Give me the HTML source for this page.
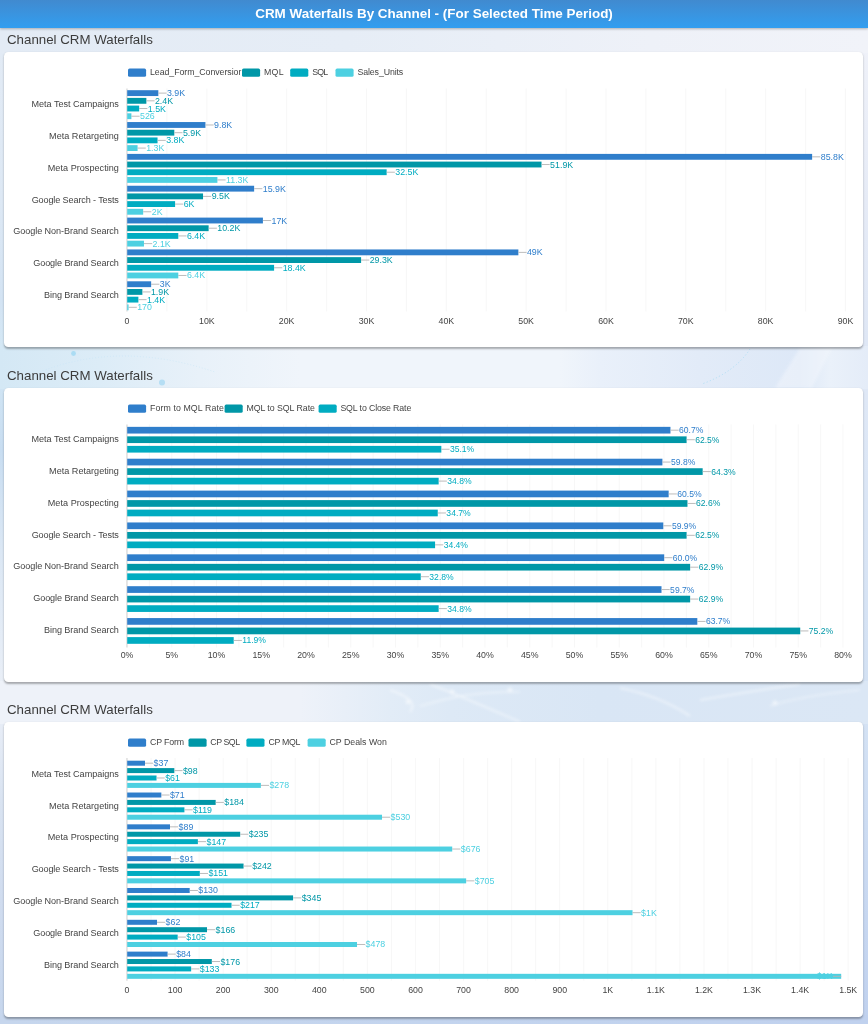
<!DOCTYPE html>
<html lang="en"><head><meta charset="utf-8"><title>CRM Waterfalls By Channel</title>
<style>
html,body{margin:0;padding:0}
body{width:868px;height:1024px;overflow:hidden;position:relative;font-family:"Liberation Sans",sans-serif;background:#e3ebf5}
.bg{position:absolute;left:0;width:868px}
.bgl{left:0;top:27px;width:434px;height:997px;background:linear-gradient(180deg,#e3ebf5 0,#dde8f4 173px,#d3e3f3 273px,#d4e8f5 323px,#c8ddf1 423px,#dbe7f4 523px,#eaeff7 663px,#e6ecf6 703px,#d9e3f1 773px,#d0dcef 873px,#c6d6ed 997px)}
.bgr{left:434px;top:27px;width:434px;height:997px;background:linear-gradient(180deg,#f0f2f9 0,#e6ebf6 173px,#dfe7f5 313px,#dfe8f6 373px,#d3e1f3 663px,#d4e2f4 693px,#c0d1ee 997px)}
.bg0{top:27px;height:26px;background:linear-gradient(90deg,#e3ebf5 0,#e6edf6 40%,#eef1f8 75%,#f1f3f9 100%)}
.bg1{top:346px;height:43px;background:linear-gradient(90deg,#d4e8f5 0,#dcecf7 100px,#e8f1f9 200px,#f0f5fb 300px,#f0f5fb 560px,#e9f0fa 600px,#e2ebf8 700px,#dde8f7 800px,#eaf1fa 830px,#e4ecf8 868px)}
.bg2{top:681px;height:43px;background:linear-gradient(90deg,#eef2f9 0,#eef2f9 300px,#e2ecf7 390px,#dde9f6 450px,#d9e6f5 600px,#dbe7f5 868px)}
.bg3{top:1015px;height:9px;background:linear-gradient(90deg,#c6d6ed 0,#c3d4ee 50%,#c0d1ee 100%)}
.hdr{position:absolute;left:0;top:0;width:868px;height:27.6px;background:linear-gradient(#418acf,#329ef0);color:#fff;font-weight:bold;font-size:13.44px;line-height:28.3px;text-align:center;box-shadow:0 1px 2.5px rgba(0,0,0,.28);z-index:2}
.ttl{position:absolute;left:7px;font-size:13.3px;color:#3c3c3c;line-height:16px;white-space:nowrap}
.card{position:absolute;left:4.2px;width:859.2px;height:295.2px;background:#fff;border-radius:4.3px;box-shadow:0 1.4px 2px rgba(0,0,0,.3)}
svg.ch{position:absolute;overflow:visible}
.g{stroke:#f6f6f6;stroke-width:.87}
.ax{stroke:#dedede;stroke-width:1.5}
.ll{stroke:#b4b4b4;stroke-width:.9}
.v{font-size:8.85px}
.c{font-size:9.1px;fill:#444}
.t{font-size:8.8px;fill:#444}
.l{font-size:8.8px;fill:#444}
</style></head><body>
<div class="bg bgl"></div><div class="bg bgr"></div><div class="bg bg0"></div><div class="bg bg1"></div><div class="bg bg2"></div><div class="bg bg3"></div>
<svg class="deco" width="868" height="1024" viewBox="0 0 868 1024" style="position:absolute;left:0;top:0">
<defs><filter id="bl" x="-20%" y="-20%" width="140%" height="140%"><feGaussianBlur stdDeviation="1.5"/></filter></defs>
<circle cx="73.5" cy="353.5" r="2.4" fill="#9fd8f2" opacity=".8"/>
<circle cx="162" cy="382.5" r="3" fill="#a9daf3" opacity=".8"/>
<path d="M40 372 Q120 340 215 372" fill="none" stroke="#c4e4f6" stroke-width=".8" stroke-dasharray="1 2" opacity=".7"/>
<path d="M750 349 Q735 372 702 384" fill="none" stroke="#a9dcf4" stroke-width="1" stroke-dasharray="1.2 2.2" opacity=".8"/>
<path d="M800 348 L775 388 L812 388 L832 348 Z" fill="#f2f6fc" opacity=".55" filter="url(#bl)"/>
<g stroke="#fff" fill="none" filter="url(#bl)" opacity=".6">
<path d="M390 690 Q420 700 410 712" stroke-width="1.6"/>
<path d="M430 684 Q470 700 520 722" stroke-width="1.4"/>
<path d="M420 706 Q470 690 520 692" stroke-width="1.2"/>
<path d="M620 688 Q660 696 690 716" stroke-width="1.6"/>
<path d="M700 700 Q760 690 800 684" stroke-width="1.4"/>
<path d="M770 706 Q800 696 860 690" stroke-width="1.2"/>
<circle cx="452" cy="692" r="2" fill="#fff"/><circle cx="510" cy="690" r="2" fill="#fff"/><circle cx="408" cy="702" r="1.8" fill="#fff"/><circle cx="775" cy="703" r="2" fill="#fff"/>
</g>
</svg>
<div class="hdr">CRM Waterfalls By Channel - (For Selected Time Period)</div>

<div class="ttl" style="top:32.40px">Channel CRM Waterfalls</div>
<div class="card" style="top:52.1px;height:295.3px"></div>
<svg class="ch" style="left:0;top:52.1px" width="868" height="295.3" viewBox="0 52.1 868 295.3">
<line x1="166.91" y1="88.60" x2="166.91" y2="311.55" class="g"/>
<line x1="206.83" y1="88.60" x2="206.83" y2="311.55" class="g"/>
<line x1="246.75" y1="88.60" x2="246.75" y2="311.55" class="g"/>
<line x1="286.66" y1="88.60" x2="286.66" y2="311.55" class="g"/>
<line x1="326.58" y1="88.60" x2="326.58" y2="311.55" class="g"/>
<line x1="366.49" y1="88.60" x2="366.49" y2="311.55" class="g"/>
<line x1="406.41" y1="88.60" x2="406.41" y2="311.55" class="g"/>
<line x1="446.32" y1="88.60" x2="446.32" y2="311.55" class="g"/>
<line x1="486.24" y1="88.60" x2="486.24" y2="311.55" class="g"/>
<line x1="526.15" y1="88.60" x2="526.15" y2="311.55" class="g"/>
<line x1="566.07" y1="88.60" x2="566.07" y2="311.55" class="g"/>
<line x1="605.98" y1="88.60" x2="605.98" y2="311.55" class="g"/>
<line x1="645.89" y1="88.60" x2="645.89" y2="311.55" class="g"/>
<line x1="685.81" y1="88.60" x2="685.81" y2="311.55" class="g"/>
<line x1="725.73" y1="88.60" x2="725.73" y2="311.55" class="g"/>
<line x1="765.64" y1="88.60" x2="765.64" y2="311.55" class="g"/>
<line x1="805.56" y1="88.60" x2="805.56" y2="311.55" class="g"/>
<line x1="845.47" y1="88.60" x2="845.47" y2="311.55" class="g"/>
<line x1="126.95" y1="88.60" x2="126.95" y2="311.55" class="ax"/>
<rect x="127.20" y="90.30" width="31.13" height="5.85" fill="#2f7ecb"/>
<line x1="158.33" y1="93.22" x2="166.53" y2="93.22" class="ll"/>
<text x="166.93" y="96.22" class="v" fill="#2f7ecb">3.9K</text>
<rect x="127.20" y="98.00" width="19.16" height="5.85" fill="#0097a7"/>
<line x1="146.36" y1="100.92" x2="154.56" y2="100.92" class="ll"/>
<text x="154.96" y="103.92" class="v" fill="#0097a7">2.4K</text>
<rect x="127.20" y="105.70" width="11.97" height="5.85" fill="#00acc1"/>
<line x1="139.17" y1="108.62" x2="147.37" y2="108.62" class="ll"/>
<text x="147.77" y="111.62" class="v" fill="#00acc1">1.5K</text>
<rect x="127.20" y="113.40" width="4.20" height="5.85" fill="#4dd0e1"/>
<line x1="131.40" y1="116.33" x2="139.60" y2="116.33" class="ll"/>
<text x="140.00" y="119.33" class="v" fill="#4dd0e1">526</text>
<rect x="127.20" y="122.15" width="78.23" height="5.85" fill="#2f7ecb"/>
<line x1="205.43" y1="125.08" x2="213.63" y2="125.08" class="ll"/>
<text x="214.03" y="128.07" class="v" fill="#2f7ecb">9.8K</text>
<rect x="127.20" y="129.85" width="47.10" height="5.85" fill="#0097a7"/>
<line x1="174.30" y1="132.78" x2="182.50" y2="132.78" class="ll"/>
<text x="182.90" y="135.78" class="v" fill="#0097a7">5.9K</text>
<rect x="127.20" y="137.55" width="30.34" height="5.85" fill="#00acc1"/>
<line x1="157.54" y1="140.48" x2="165.74" y2="140.48" class="ll"/>
<text x="166.14" y="143.48" class="v" fill="#00acc1">3.8K</text>
<rect x="127.20" y="145.25" width="10.38" height="5.85" fill="#4dd0e1"/>
<line x1="137.58" y1="148.18" x2="145.78" y2="148.18" class="ll"/>
<text x="146.18" y="151.18" class="v" fill="#4dd0e1">1.3K</text>
<rect x="127.20" y="154.00" width="684.94" height="5.85" fill="#2f7ecb"/>
<line x1="812.14" y1="156.93" x2="820.34" y2="156.93" class="ll"/>
<text x="820.74" y="159.93" class="v" fill="#2f7ecb">85.8K</text>
<rect x="127.20" y="161.70" width="414.32" height="5.85" fill="#0097a7"/>
<line x1="541.52" y1="164.62" x2="549.72" y2="164.62" class="ll"/>
<text x="550.12" y="167.62" class="v" fill="#0097a7">51.9K</text>
<rect x="127.20" y="169.40" width="259.45" height="5.85" fill="#00acc1"/>
<line x1="386.65" y1="172.33" x2="394.85" y2="172.33" class="ll"/>
<text x="395.25" y="175.33" class="v" fill="#00acc1">32.5K</text>
<rect x="127.20" y="177.10" width="90.21" height="5.85" fill="#4dd0e1"/>
<line x1="217.41" y1="180.03" x2="225.61" y2="180.03" class="ll"/>
<text x="226.01" y="183.03" class="v" fill="#4dd0e1">11.3K</text>
<rect x="127.20" y="185.85" width="126.93" height="5.85" fill="#2f7ecb"/>
<line x1="254.13" y1="188.78" x2="262.33" y2="188.78" class="ll"/>
<text x="262.73" y="191.78" class="v" fill="#2f7ecb">15.9K</text>
<rect x="127.20" y="193.55" width="75.84" height="5.85" fill="#0097a7"/>
<line x1="203.04" y1="196.48" x2="211.24" y2="196.48" class="ll"/>
<text x="211.64" y="199.48" class="v" fill="#0097a7">9.5K</text>
<rect x="127.20" y="201.25" width="47.90" height="5.85" fill="#00acc1"/>
<line x1="175.10" y1="204.18" x2="183.30" y2="204.18" class="ll"/>
<text x="183.70" y="207.18" class="v" fill="#00acc1">6K</text>
<rect x="127.20" y="208.95" width="15.97" height="5.85" fill="#4dd0e1"/>
<line x1="143.17" y1="211.88" x2="151.37" y2="211.88" class="ll"/>
<text x="151.77" y="214.88" class="v" fill="#4dd0e1">2K</text>
<rect x="127.20" y="217.70" width="135.71" height="5.85" fill="#2f7ecb"/>
<line x1="262.91" y1="220.62" x2="271.11" y2="220.62" class="ll"/>
<text x="271.51" y="223.62" class="v" fill="#2f7ecb">17K</text>
<rect x="127.20" y="225.40" width="81.43" height="5.85" fill="#0097a7"/>
<line x1="208.63" y1="228.32" x2="216.83" y2="228.32" class="ll"/>
<text x="217.23" y="231.32" class="v" fill="#0097a7">10.2K</text>
<rect x="127.20" y="233.10" width="51.09" height="5.85" fill="#00acc1"/>
<line x1="178.29" y1="236.03" x2="186.49" y2="236.03" class="ll"/>
<text x="186.89" y="239.03" class="v" fill="#00acc1">6.4K</text>
<rect x="127.20" y="240.80" width="16.76" height="5.85" fill="#4dd0e1"/>
<line x1="143.96" y1="243.72" x2="152.16" y2="243.72" class="ll"/>
<text x="152.56" y="246.72" class="v" fill="#4dd0e1">2.1K</text>
<rect x="127.20" y="249.55" width="391.17" height="5.85" fill="#2f7ecb"/>
<line x1="518.37" y1="252.48" x2="526.57" y2="252.48" class="ll"/>
<text x="526.97" y="255.48" class="v" fill="#2f7ecb">49K</text>
<rect x="127.20" y="257.25" width="233.90" height="5.85" fill="#0097a7"/>
<line x1="361.10" y1="260.18" x2="369.30" y2="260.18" class="ll"/>
<text x="369.70" y="263.18" class="v" fill="#0097a7">29.3K</text>
<rect x="127.20" y="264.95" width="146.89" height="5.85" fill="#00acc1"/>
<line x1="274.09" y1="267.88" x2="282.29" y2="267.88" class="ll"/>
<text x="282.69" y="270.88" class="v" fill="#00acc1">18.4K</text>
<rect x="127.20" y="272.65" width="51.09" height="5.85" fill="#4dd0e1"/>
<line x1="178.29" y1="275.58" x2="186.49" y2="275.58" class="ll"/>
<text x="186.89" y="278.58" class="v" fill="#4dd0e1">6.4K</text>
<rect x="127.20" y="281.40" width="23.95" height="5.85" fill="#2f7ecb"/>
<line x1="151.15" y1="284.33" x2="159.35" y2="284.33" class="ll"/>
<text x="159.75" y="287.33" class="v" fill="#2f7ecb">3K</text>
<rect x="127.20" y="289.10" width="15.17" height="5.85" fill="#0097a7"/>
<line x1="142.37" y1="292.03" x2="150.57" y2="292.03" class="ll"/>
<text x="150.97" y="295.03" class="v" fill="#0097a7">1.9K</text>
<rect x="127.20" y="296.80" width="11.18" height="5.85" fill="#00acc1"/>
<line x1="138.38" y1="299.73" x2="146.58" y2="299.73" class="ll"/>
<text x="146.98" y="302.73" class="v" fill="#00acc1">1.4K</text>
<rect x="127.20" y="304.50" width="1.36" height="5.85" fill="#4dd0e1"/>
<line x1="128.56" y1="307.43" x2="136.76" y2="307.43" class="ll"/>
<text x="137.16" y="310.43" class="v" fill="#4dd0e1">170</text>
<text x="118.9" y="107.12" class="c" text-anchor="end" textLength="87.36" lengthAdjust="spacing">Meta Test Campaigns</text>
<text x="118.9" y="138.98" class="c" text-anchor="end" textLength="69.80" lengthAdjust="spacing">Meta Retargeting</text>
<text x="118.9" y="170.83" class="c" text-anchor="end" textLength="71.13" lengthAdjust="spacing">Meta Prospecting</text>
<text x="118.9" y="202.68" class="c" text-anchor="end" textLength="87.27" lengthAdjust="spacing">Google Search - Tests</text>
<text x="118.9" y="234.53" class="c" text-anchor="end" textLength="105.67" lengthAdjust="spacing">Google Non-Brand Search</text>
<text x="118.9" y="266.38" class="c" text-anchor="end" textLength="85.67" lengthAdjust="spacing">Google Brand Search</text>
<text x="118.9" y="298.23" class="c" text-anchor="end" textLength="74.86" lengthAdjust="spacing">Bing Brand Search</text>
<text x="127.00" y="324.15" class="t" text-anchor="middle">0</text>
<text x="206.83" y="324.15" class="t" text-anchor="middle">10K</text>
<text x="286.66" y="324.15" class="t" text-anchor="middle">20K</text>
<text x="366.49" y="324.15" class="t" text-anchor="middle">30K</text>
<text x="446.32" y="324.15" class="t" text-anchor="middle">40K</text>
<text x="526.15" y="324.15" class="t" text-anchor="middle">50K</text>
<text x="605.98" y="324.15" class="t" text-anchor="middle">60K</text>
<text x="685.81" y="324.15" class="t" text-anchor="middle">70K</text>
<text x="765.64" y="324.15" class="t" text-anchor="middle">80K</text>
<text x="845.47" y="324.15" class="t" text-anchor="middle">90K</text>
<rect x="128" y="68.70" width="18.1" height="8.2" rx="1.6" fill="#2f7ecb"/>
<clipPath id="cl0"><rect x="149" y="64.8" width="92.19999999999999" height="16"/></clipPath>
<text x="150" y="75.40" class="l" clip-path="url(#cl0)" textLength="93.30" lengthAdjust="spacing">Lead_Form_Conversion</text>
<rect x="242" y="68.70" width="18.1" height="8.2" rx="1.6" fill="#0097a7"/>
<text x="264" y="75.40" class="l" textLength="19.53" lengthAdjust="spacing">MQL</text>
<rect x="290.2" y="68.70" width="18.1" height="8.2" rx="1.6" fill="#00acc1"/>
<text x="312.2" y="75.40" class="l" textLength="15.88" lengthAdjust="spacing">SQL</text>
<rect x="335.5" y="68.70" width="18.1" height="8.2" rx="1.6" fill="#4dd0e1"/>
<text x="357.5" y="75.40" class="l" textLength="45.72" lengthAdjust="spacing">Sales_Units</text>
</svg>
<div class="ttl" style="top:367.90px">Channel CRM Waterfalls</div>
<div class="card" style="top:387.6px;height:294.8px"></div>
<svg class="ch" style="left:0;top:387.6px" width="868" height="294.8" viewBox="0 387.6 868 294.8">
<line x1="149.38" y1="424.00" x2="149.38" y2="647.09" class="g"/>
<line x1="171.75" y1="424.00" x2="171.75" y2="647.09" class="g"/>
<line x1="194.12" y1="424.00" x2="194.12" y2="647.09" class="g"/>
<line x1="216.50" y1="424.00" x2="216.50" y2="647.09" class="g"/>
<line x1="238.88" y1="424.00" x2="238.88" y2="647.09" class="g"/>
<line x1="261.25" y1="424.00" x2="261.25" y2="647.09" class="g"/>
<line x1="283.62" y1="424.00" x2="283.62" y2="647.09" class="g"/>
<line x1="306.00" y1="424.00" x2="306.00" y2="647.09" class="g"/>
<line x1="328.38" y1="424.00" x2="328.38" y2="647.09" class="g"/>
<line x1="350.75" y1="424.00" x2="350.75" y2="647.09" class="g"/>
<line x1="373.12" y1="424.00" x2="373.12" y2="647.09" class="g"/>
<line x1="395.50" y1="424.00" x2="395.50" y2="647.09" class="g"/>
<line x1="417.88" y1="424.00" x2="417.88" y2="647.09" class="g"/>
<line x1="440.25" y1="424.00" x2="440.25" y2="647.09" class="g"/>
<line x1="462.62" y1="424.00" x2="462.62" y2="647.09" class="g"/>
<line x1="485.00" y1="424.00" x2="485.00" y2="647.09" class="g"/>
<line x1="507.37" y1="424.00" x2="507.37" y2="647.09" class="g"/>
<line x1="529.75" y1="424.00" x2="529.75" y2="647.09" class="g"/>
<line x1="552.12" y1="424.00" x2="552.12" y2="647.09" class="g"/>
<line x1="574.50" y1="424.00" x2="574.50" y2="647.09" class="g"/>
<line x1="596.88" y1="424.00" x2="596.88" y2="647.09" class="g"/>
<line x1="619.25" y1="424.00" x2="619.25" y2="647.09" class="g"/>
<line x1="641.62" y1="424.00" x2="641.62" y2="647.09" class="g"/>
<line x1="664.00" y1="424.00" x2="664.00" y2="647.09" class="g"/>
<line x1="686.38" y1="424.00" x2="686.38" y2="647.09" class="g"/>
<line x1="708.75" y1="424.00" x2="708.75" y2="647.09" class="g"/>
<line x1="731.12" y1="424.00" x2="731.12" y2="647.09" class="g"/>
<line x1="753.50" y1="424.00" x2="753.50" y2="647.09" class="g"/>
<line x1="775.88" y1="424.00" x2="775.88" y2="647.09" class="g"/>
<line x1="798.25" y1="424.00" x2="798.25" y2="647.09" class="g"/>
<line x1="820.62" y1="424.00" x2="820.62" y2="647.09" class="g"/>
<line x1="843.00" y1="424.00" x2="843.00" y2="647.09" class="g"/>
<line x1="126.95" y1="424.00" x2="126.95" y2="647.09" class="ax"/>
<rect x="127.20" y="426.45" width="543.26" height="6.7" fill="#2f7ecb"/>
<line x1="670.47" y1="429.80" x2="678.67" y2="429.80" class="ll"/>
<text x="679.07" y="432.80" class="v" fill="#2f7ecb" style="font-size:8.6px">60.7%</text>
<rect x="127.20" y="435.97" width="559.38" height="6.7" fill="#0097a7"/>
<line x1="686.58" y1="439.32" x2="694.78" y2="439.32" class="ll"/>
<text x="695.18" y="442.32" class="v" fill="#0097a7" style="font-size:8.6px">62.5%</text>
<rect x="127.20" y="445.49" width="314.14" height="6.7" fill="#00acc1"/>
<line x1="441.34" y1="448.84" x2="449.54" y2="448.84" class="ll"/>
<text x="449.94" y="451.84" class="v" fill="#00acc1" style="font-size:8.6px">35.1%</text>
<rect x="127.20" y="458.32" width="535.21" height="6.7" fill="#2f7ecb"/>
<line x1="662.41" y1="461.67" x2="670.61" y2="461.67" class="ll"/>
<text x="671.01" y="464.67" class="v" fill="#2f7ecb" style="font-size:8.6px">59.8%</text>
<rect x="127.20" y="467.84" width="575.48" height="6.7" fill="#0097a7"/>
<line x1="702.68" y1="471.19" x2="710.88" y2="471.19" class="ll"/>
<text x="711.28" y="474.19" class="v" fill="#0097a7" style="font-size:8.6px">64.3%</text>
<rect x="127.20" y="477.36" width="311.46" height="6.7" fill="#00acc1"/>
<line x1="438.66" y1="480.71" x2="446.86" y2="480.71" class="ll"/>
<text x="447.26" y="483.71" class="v" fill="#00acc1" style="font-size:8.6px">34.8%</text>
<rect x="127.20" y="490.19" width="541.47" height="6.7" fill="#2f7ecb"/>
<line x1="668.67" y1="493.54" x2="676.88" y2="493.54" class="ll"/>
<text x="677.27" y="496.54" class="v" fill="#2f7ecb" style="font-size:8.6px">60.5%</text>
<rect x="127.20" y="499.71" width="560.27" height="6.7" fill="#0097a7"/>
<line x1="687.47" y1="503.06" x2="695.67" y2="503.06" class="ll"/>
<text x="696.07" y="506.06" class="v" fill="#0097a7" style="font-size:8.6px">62.6%</text>
<rect x="127.20" y="509.23" width="310.56" height="6.7" fill="#00acc1"/>
<line x1="437.76" y1="512.58" x2="445.96" y2="512.58" class="ll"/>
<text x="446.37" y="515.58" class="v" fill="#00acc1" style="font-size:8.6px">34.7%</text>
<rect x="127.20" y="522.06" width="536.10" height="6.7" fill="#2f7ecb"/>
<line x1="663.30" y1="525.41" x2="671.50" y2="525.41" class="ll"/>
<text x="671.90" y="528.41" class="v" fill="#2f7ecb" style="font-size:8.6px">59.9%</text>
<rect x="127.20" y="531.58" width="559.38" height="6.7" fill="#0097a7"/>
<line x1="686.58" y1="534.93" x2="694.78" y2="534.93" class="ll"/>
<text x="695.18" y="537.93" class="v" fill="#0097a7" style="font-size:8.6px">62.5%</text>
<rect x="127.20" y="541.10" width="307.88" height="6.7" fill="#00acc1"/>
<line x1="435.08" y1="544.45" x2="443.28" y2="544.45" class="ll"/>
<text x="443.68" y="547.45" class="v" fill="#00acc1" style="font-size:8.6px">34.4%</text>
<rect x="127.20" y="553.93" width="537.00" height="6.7" fill="#2f7ecb"/>
<line x1="664.20" y1="557.28" x2="672.40" y2="557.28" class="ll"/>
<text x="672.80" y="560.28" class="v" fill="#2f7ecb" style="font-size:8.6px">60.0%</text>
<rect x="127.20" y="563.45" width="562.95" height="6.7" fill="#0097a7"/>
<line x1="690.15" y1="566.80" x2="698.36" y2="566.80" class="ll"/>
<text x="698.75" y="569.80" class="v" fill="#0097a7" style="font-size:8.6px">62.9%</text>
<rect x="127.20" y="572.97" width="293.56" height="6.7" fill="#00acc1"/>
<line x1="420.76" y1="576.32" x2="428.96" y2="576.32" class="ll"/>
<text x="429.36" y="579.32" class="v" fill="#00acc1" style="font-size:8.6px">32.8%</text>
<rect x="127.20" y="585.80" width="534.31" height="6.7" fill="#2f7ecb"/>
<line x1="661.51" y1="589.15" x2="669.72" y2="589.15" class="ll"/>
<text x="670.12" y="592.15" class="v" fill="#2f7ecb" style="font-size:8.6px">59.7%</text>
<rect x="127.20" y="595.32" width="562.95" height="6.7" fill="#0097a7"/>
<line x1="690.15" y1="598.67" x2="698.36" y2="598.67" class="ll"/>
<text x="698.75" y="601.67" class="v" fill="#0097a7" style="font-size:8.6px">62.9%</text>
<rect x="127.20" y="604.84" width="311.46" height="6.7" fill="#00acc1"/>
<line x1="438.66" y1="608.19" x2="446.86" y2="608.19" class="ll"/>
<text x="447.26" y="611.19" class="v" fill="#00acc1" style="font-size:8.6px">34.8%</text>
<rect x="127.20" y="617.67" width="570.12" height="6.7" fill="#2f7ecb"/>
<line x1="697.32" y1="621.02" x2="705.52" y2="621.02" class="ll"/>
<text x="705.92" y="624.02" class="v" fill="#2f7ecb" style="font-size:8.6px">63.7%</text>
<rect x="127.20" y="627.19" width="673.04" height="6.7" fill="#0097a7"/>
<line x1="800.24" y1="630.54" x2="808.44" y2="630.54" class="ll"/>
<text x="808.84" y="633.54" class="v" fill="#0097a7" style="font-size:8.6px">75.2%</text>
<rect x="127.20" y="636.71" width="106.50" height="6.7" fill="#00acc1"/>
<line x1="233.70" y1="640.06" x2="241.90" y2="640.06" class="ll"/>
<text x="242.30" y="643.06" class="v" fill="#00acc1" style="font-size:8.6px">11.9%</text>
<text x="118.9" y="441.63" class="c" text-anchor="end" textLength="87.36" lengthAdjust="spacing">Meta Test Campaigns</text>
<text x="118.9" y="473.50" class="c" text-anchor="end" textLength="69.80" lengthAdjust="spacing">Meta Retargeting</text>
<text x="118.9" y="505.38" class="c" text-anchor="end" textLength="71.13" lengthAdjust="spacing">Meta Prospecting</text>
<text x="118.9" y="537.24" class="c" text-anchor="end" textLength="87.27" lengthAdjust="spacing">Google Search - Tests</text>
<text x="118.9" y="569.11" class="c" text-anchor="end" textLength="105.67" lengthAdjust="spacing">Google Non-Brand Search</text>
<text x="118.9" y="600.98" class="c" text-anchor="end" textLength="85.67" lengthAdjust="spacing">Google Brand Search</text>
<text x="118.9" y="632.85" class="c" text-anchor="end" textLength="74.86" lengthAdjust="spacing">Bing Brand Search</text>
<text x="127.00" y="657.89" class="t" text-anchor="middle">0%</text>
<text x="171.75" y="657.89" class="t" text-anchor="middle">5%</text>
<text x="216.50" y="657.89" class="t" text-anchor="middle">10%</text>
<text x="261.25" y="657.89" class="t" text-anchor="middle">15%</text>
<text x="306.00" y="657.89" class="t" text-anchor="middle">20%</text>
<text x="350.75" y="657.89" class="t" text-anchor="middle">25%</text>
<text x="395.50" y="657.89" class="t" text-anchor="middle">30%</text>
<text x="440.25" y="657.89" class="t" text-anchor="middle">35%</text>
<text x="485.00" y="657.89" class="t" text-anchor="middle">40%</text>
<text x="529.75" y="657.89" class="t" text-anchor="middle">45%</text>
<text x="574.50" y="657.89" class="t" text-anchor="middle">50%</text>
<text x="619.25" y="657.89" class="t" text-anchor="middle">55%</text>
<text x="664.00" y="657.89" class="t" text-anchor="middle">60%</text>
<text x="708.75" y="657.89" class="t" text-anchor="middle">65%</text>
<text x="753.50" y="657.89" class="t" text-anchor="middle">70%</text>
<text x="798.25" y="657.89" class="t" text-anchor="middle">75%</text>
<text x="843.00" y="657.89" class="t" text-anchor="middle">80%</text>
<rect x="128" y="404.20" width="18.1" height="8.2" rx="1.6" fill="#2f7ecb"/>
<text x="150" y="410.90" class="l" textLength="73.82" lengthAdjust="spacing">Form to MQL Rate</text>
<rect x="224.6" y="404.20" width="18.1" height="8.2" rx="1.6" fill="#0097a7"/>
<text x="246.4" y="410.90" class="l" textLength="68.52" lengthAdjust="spacing">MQL to SQL Rate</text>
<rect x="318.6" y="404.20" width="18.1" height="8.2" rx="1.6" fill="#00acc1"/>
<text x="340.4" y="410.90" class="l" textLength="70.87" lengthAdjust="spacing">SQL to Close Rate</text>
</svg>
<div class="ttl" style="top:702.30px">Channel CRM Waterfalls</div>
<div class="card" style="top:722.0px;height:295.3px"></div>
<svg class="ch" style="left:0;top:722.0px" width="868" height="295.3" viewBox="0 722.0 868 295.3">
<line x1="151.04" y1="758.00" x2="151.04" y2="980.74" class="g"/>
<line x1="175.08" y1="758.00" x2="175.08" y2="980.74" class="g"/>
<line x1="199.12" y1="758.00" x2="199.12" y2="980.74" class="g"/>
<line x1="223.16" y1="758.00" x2="223.16" y2="980.74" class="g"/>
<line x1="247.20" y1="758.00" x2="247.20" y2="980.74" class="g"/>
<line x1="271.24" y1="758.00" x2="271.24" y2="980.74" class="g"/>
<line x1="295.28" y1="758.00" x2="295.28" y2="980.74" class="g"/>
<line x1="319.32" y1="758.00" x2="319.32" y2="980.74" class="g"/>
<line x1="343.36" y1="758.00" x2="343.36" y2="980.74" class="g"/>
<line x1="367.40" y1="758.00" x2="367.40" y2="980.74" class="g"/>
<line x1="391.44" y1="758.00" x2="391.44" y2="980.74" class="g"/>
<line x1="415.48" y1="758.00" x2="415.48" y2="980.74" class="g"/>
<line x1="439.52" y1="758.00" x2="439.52" y2="980.74" class="g"/>
<line x1="463.56" y1="758.00" x2="463.56" y2="980.74" class="g"/>
<line x1="487.60" y1="758.00" x2="487.60" y2="980.74" class="g"/>
<line x1="511.64" y1="758.00" x2="511.64" y2="980.74" class="g"/>
<line x1="535.68" y1="758.00" x2="535.68" y2="980.74" class="g"/>
<line x1="559.72" y1="758.00" x2="559.72" y2="980.74" class="g"/>
<line x1="583.76" y1="758.00" x2="583.76" y2="980.74" class="g"/>
<line x1="607.80" y1="758.00" x2="607.80" y2="980.74" class="g"/>
<line x1="631.84" y1="758.00" x2="631.84" y2="980.74" class="g"/>
<line x1="655.88" y1="758.00" x2="655.88" y2="980.74" class="g"/>
<line x1="679.92" y1="758.00" x2="679.92" y2="980.74" class="g"/>
<line x1="703.96" y1="758.00" x2="703.96" y2="980.74" class="g"/>
<line x1="728.00" y1="758.00" x2="728.00" y2="980.74" class="g"/>
<line x1="752.04" y1="758.00" x2="752.04" y2="980.74" class="g"/>
<line x1="776.08" y1="758.00" x2="776.08" y2="980.74" class="g"/>
<line x1="800.12" y1="758.00" x2="800.12" y2="980.74" class="g"/>
<line x1="824.16" y1="758.00" x2="824.16" y2="980.74" class="g"/>
<line x1="848.20" y1="758.00" x2="848.20" y2="980.74" class="g"/>
<line x1="126.95" y1="758.00" x2="126.95" y2="980.74" class="ax"/>
<rect x="127.20" y="760.70" width="17.79" height="5.0" fill="#2f7ecb"/>
<line x1="144.99" y1="763.20" x2="153.19" y2="763.20" class="ll"/>
<text x="153.59" y="766.20" class="v" fill="#2f7ecb">$37</text>
<rect x="127.20" y="768.10" width="47.12" height="5.0" fill="#0097a7"/>
<line x1="174.32" y1="770.60" x2="182.52" y2="770.60" class="ll"/>
<text x="182.92" y="773.60" class="v" fill="#0097a7">$98</text>
<rect x="127.20" y="775.50" width="29.33" height="5.0" fill="#00acc1"/>
<line x1="156.53" y1="778.00" x2="164.73" y2="778.00" class="ll"/>
<text x="165.13" y="781.00" class="v" fill="#00acc1">$61</text>
<rect x="127.20" y="782.90" width="133.66" height="5.0" fill="#4dd0e1"/>
<line x1="260.86" y1="785.40" x2="269.06" y2="785.40" class="ll"/>
<text x="269.46" y="788.40" class="v" fill="#4dd0e1">$278</text>
<rect x="127.20" y="792.52" width="34.14" height="5.0" fill="#2f7ecb"/>
<line x1="161.34" y1="795.02" x2="169.54" y2="795.02" class="ll"/>
<text x="169.94" y="798.02" class="v" fill="#2f7ecb">$71</text>
<rect x="127.20" y="799.92" width="88.47" height="5.0" fill="#0097a7"/>
<line x1="215.67" y1="802.42" x2="223.87" y2="802.42" class="ll"/>
<text x="224.27" y="805.42" class="v" fill="#0097a7">$184</text>
<rect x="127.20" y="807.32" width="57.22" height="5.0" fill="#00acc1"/>
<line x1="184.42" y1="809.82" x2="192.62" y2="809.82" class="ll"/>
<text x="193.02" y="812.82" class="v" fill="#00acc1">$119</text>
<rect x="127.20" y="814.72" width="254.82" height="5.0" fill="#4dd0e1"/>
<line x1="382.02" y1="817.22" x2="390.22" y2="817.22" class="ll"/>
<text x="390.62" y="820.22" class="v" fill="#4dd0e1">$530</text>
<rect x="127.20" y="824.34" width="42.79" height="5.0" fill="#2f7ecb"/>
<line x1="169.99" y1="826.84" x2="178.19" y2="826.84" class="ll"/>
<text x="178.59" y="829.84" class="v" fill="#2f7ecb">$89</text>
<rect x="127.20" y="831.74" width="112.99" height="5.0" fill="#0097a7"/>
<line x1="240.19" y1="834.24" x2="248.39" y2="834.24" class="ll"/>
<text x="248.79" y="837.24" class="v" fill="#0097a7">$235</text>
<rect x="127.20" y="839.14" width="70.68" height="5.0" fill="#00acc1"/>
<line x1="197.88" y1="841.64" x2="206.08" y2="841.64" class="ll"/>
<text x="206.48" y="844.64" class="v" fill="#00acc1">$147</text>
<rect x="127.20" y="846.54" width="325.02" height="5.0" fill="#4dd0e1"/>
<line x1="452.22" y1="849.04" x2="460.42" y2="849.04" class="ll"/>
<text x="460.82" y="852.04" class="v" fill="#4dd0e1">$676</text>
<rect x="127.20" y="856.16" width="43.75" height="5.0" fill="#2f7ecb"/>
<line x1="170.95" y1="858.66" x2="179.15" y2="858.66" class="ll"/>
<text x="179.55" y="861.66" class="v" fill="#2f7ecb">$91</text>
<rect x="127.20" y="863.56" width="116.35" height="5.0" fill="#0097a7"/>
<line x1="243.55" y1="866.06" x2="251.75" y2="866.06" class="ll"/>
<text x="252.15" y="869.06" class="v" fill="#0097a7">$242</text>
<rect x="127.20" y="870.96" width="72.60" height="5.0" fill="#00acc1"/>
<line x1="199.80" y1="873.46" x2="208.00" y2="873.46" class="ll"/>
<text x="208.40" y="876.46" class="v" fill="#00acc1">$151</text>
<rect x="127.20" y="878.36" width="338.96" height="5.0" fill="#4dd0e1"/>
<line x1="466.16" y1="880.86" x2="474.36" y2="880.86" class="ll"/>
<text x="474.76" y="883.86" class="v" fill="#4dd0e1">$705</text>
<rect x="127.20" y="887.98" width="62.50" height="5.0" fill="#2f7ecb"/>
<line x1="189.70" y1="890.48" x2="197.90" y2="890.48" class="ll"/>
<text x="198.30" y="893.48" class="v" fill="#2f7ecb">$130</text>
<rect x="127.20" y="895.38" width="165.88" height="5.0" fill="#0097a7"/>
<line x1="293.08" y1="897.88" x2="301.28" y2="897.88" class="ll"/>
<text x="301.68" y="900.88" class="v" fill="#0097a7">$345</text>
<rect x="127.20" y="902.78" width="104.33" height="5.0" fill="#00acc1"/>
<line x1="231.53" y1="905.28" x2="239.73" y2="905.28" class="ll"/>
<text x="240.13" y="908.28" class="v" fill="#00acc1">$217</text>
<rect x="127.20" y="910.18" width="505.32" height="5.0" fill="#4dd0e1"/>
<line x1="632.52" y1="912.68" x2="640.72" y2="912.68" class="ll"/>
<text x="641.12" y="915.68" class="v" fill="#4dd0e1">$1K</text>
<rect x="127.20" y="919.80" width="29.81" height="5.0" fill="#2f7ecb"/>
<line x1="157.01" y1="922.30" x2="165.21" y2="922.30" class="ll"/>
<text x="165.61" y="925.30" class="v" fill="#2f7ecb">$62</text>
<rect x="127.20" y="927.20" width="79.81" height="5.0" fill="#0097a7"/>
<line x1="207.01" y1="929.70" x2="215.21" y2="929.70" class="ll"/>
<text x="215.61" y="932.70" class="v" fill="#0097a7">$166</text>
<rect x="127.20" y="934.60" width="50.48" height="5.0" fill="#00acc1"/>
<line x1="177.68" y1="937.10" x2="185.88" y2="937.10" class="ll"/>
<text x="186.28" y="940.10" class="v" fill="#00acc1">$105</text>
<rect x="127.20" y="942.00" width="229.82" height="5.0" fill="#4dd0e1"/>
<line x1="357.02" y1="944.50" x2="365.22" y2="944.50" class="ll"/>
<text x="365.62" y="947.50" class="v" fill="#4dd0e1">$478</text>
<rect x="127.20" y="951.62" width="40.39" height="5.0" fill="#2f7ecb"/>
<line x1="167.59" y1="954.12" x2="175.79" y2="954.12" class="ll"/>
<text x="176.19" y="957.12" class="v" fill="#2f7ecb">$84</text>
<rect x="127.20" y="959.02" width="84.62" height="5.0" fill="#0097a7"/>
<line x1="211.82" y1="961.52" x2="220.02" y2="961.52" class="ll"/>
<text x="220.42" y="964.52" class="v" fill="#0097a7">$176</text>
<rect x="127.20" y="966.42" width="63.95" height="5.0" fill="#00acc1"/>
<line x1="191.15" y1="968.92" x2="199.35" y2="968.92" class="ll"/>
<text x="199.75" y="971.92" class="v" fill="#00acc1">$133</text>
<rect x="127.20" y="973.82" width="713.99" height="5.0" fill="#4dd0e1"/>
<line x1="832.99" y1="976.32" x2="841.19" y2="976.32" class="ll"/>
<text x="832.59" y="979.32" class="v" text-anchor="end" fill="#4dd0e1">$1K</text>
<text x="118.9" y="776.81" class="c" text-anchor="end" textLength="87.36" lengthAdjust="spacing">Meta Test Campaigns</text>
<text x="118.9" y="808.63" class="c" text-anchor="end" textLength="69.80" lengthAdjust="spacing">Meta Retargeting</text>
<text x="118.9" y="840.45" class="c" text-anchor="end" textLength="71.13" lengthAdjust="spacing">Meta Prospecting</text>
<text x="118.9" y="872.27" class="c" text-anchor="end" textLength="87.27" lengthAdjust="spacing">Google Search - Tests</text>
<text x="118.9" y="904.09" class="c" text-anchor="end" textLength="105.67" lengthAdjust="spacing">Google Non-Brand Search</text>
<text x="118.9" y="935.91" class="c" text-anchor="end" textLength="85.67" lengthAdjust="spacing">Google Brand Search</text>
<text x="118.9" y="967.73" class="c" text-anchor="end" textLength="74.86" lengthAdjust="spacing">Bing Brand Search</text>
<text x="127.00" y="992.64" class="t" text-anchor="middle">0</text>
<text x="175.08" y="992.64" class="t" text-anchor="middle">100</text>
<text x="223.16" y="992.64" class="t" text-anchor="middle">200</text>
<text x="271.24" y="992.64" class="t" text-anchor="middle">300</text>
<text x="319.32" y="992.64" class="t" text-anchor="middle">400</text>
<text x="367.40" y="992.64" class="t" text-anchor="middle">500</text>
<text x="415.48" y="992.64" class="t" text-anchor="middle">600</text>
<text x="463.56" y="992.64" class="t" text-anchor="middle">700</text>
<text x="511.64" y="992.64" class="t" text-anchor="middle">800</text>
<text x="559.72" y="992.64" class="t" text-anchor="middle">900</text>
<text x="607.80" y="992.64" class="t" text-anchor="middle">1K</text>
<text x="655.88" y="992.64" class="t" text-anchor="middle">1.1K</text>
<text x="703.96" y="992.64" class="t" text-anchor="middle">1.2K</text>
<text x="752.04" y="992.64" class="t" text-anchor="middle">1.3K</text>
<text x="800.12" y="992.64" class="t" text-anchor="middle">1.4K</text>
<text x="848.20" y="992.64" class="t" text-anchor="middle">1.5K</text>
<rect x="128" y="738.60" width="18.1" height="8.2" rx="1.6" fill="#2f7ecb"/>
<text x="150" y="745.30" class="l" textLength="34.19" lengthAdjust="spacing">CP Form</text>
<rect x="188.5" y="738.60" width="18.1" height="8.2" rx="1.6" fill="#0097a7"/>
<text x="210.3" y="745.30" class="l" textLength="29.77" lengthAdjust="spacing">CP SQL</text>
<rect x="246.4" y="738.60" width="18.1" height="8.2" rx="1.6" fill="#00acc1"/>
<text x="268.5" y="745.30" class="l" textLength="31.97" lengthAdjust="spacing">CP MQL</text>
<rect x="307.6" y="738.60" width="18.1" height="8.2" rx="1.6" fill="#4dd0e1"/>
<text x="329.5" y="745.30" class="l" textLength="57.34" lengthAdjust="spacing">CP Deals Won</text>
</svg>
</body></html>
